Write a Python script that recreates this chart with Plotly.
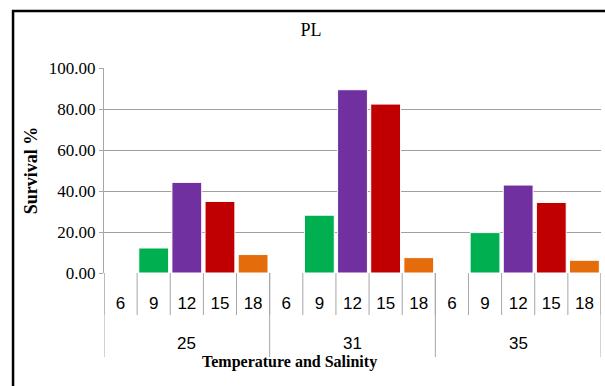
import plotly.graph_objects as go

# Survival of PL by rearing temperature and salinity
temperatures = ["25", "31", "35"]
salinities = ["6", "9", "12", "15", "18"]
survival = {
    "25": [0.0, 12.2, 44.2, 34.9, 9.0],
    "31": [0.0, 28.2, 89.4, 82.4, 7.5],
    "35": [0.0, 19.7, 42.9, 34.4, 6.2],
}
salinity_colors = {
    "6": "#00B050",
    "9": "#00B050",
    "12": "#7030A0",
    "15": "#C00000",
    "18": "#E46C0A",
}
y_ticks = [0, 20, 40, 60, 80, 100]

categories, sal_labels, y_vals, colors = [], [], [], []
for t in temperatures:
    for s, v in zip(salinities, survival[t]):
        categories.append(f"{t}-{s}")
        sal_labels.append(s)
        y_vals.append(v)
        colors.append(salinity_colors[s])

n = len(categories)
per_group = len(salinities)

fig = go.Figure(
    go.Bar(
        x=categories,
        y=y_vals,
        marker=dict(color=colors, line=dict(color="white", width=1)),
        showlegend=False,
    )
)

serif = "Liberation Serif"
sans = "Liberation Sans Narrow, Liberation Sans"
grey = "#A6A6A6"

# tick marks between salinity categories
for i in range(n + 1):
    fig.add_shape(
        type="line", xref="x", yref="paper",
        x0=i - 0.5, x1=i - 0.5, y0=0, y1=-0.205,
        line=dict(color=grey, width=1), layer="below",
    )
# dividers between temperature groups, with the temperature labels
for g in range(len(temperatures) + 1):
    xg = g * per_group - 0.5
    fig.add_shape(
        type="line", xref="x", yref="paper",
        x0=xg, x1=xg, y0=0, y1=-0.41,
        line=dict(color=grey, width=1), layer="below",
    )
for g, t in enumerate(temperatures):
    fig.add_annotation(
        text=t, xref="x", yref="paper",
        x=g * per_group + (per_group - 1) / 2, y=-(343 - 273) / 205,
        xanchor="center", yanchor="middle", showarrow=False,
        font=dict(family=sans, size=17, color="black"),
    )

# outer frame
fig.add_shape(
    type="rect", xref="paper", yref="paper",
    x0=-0.183, x1=1.03, y0=-0.6, y1=1.278,
    line=dict(color="black", width=2.5), fillcolor="rgba(0,0,0,0)",
)

fig.add_annotation(
    text="<b>Temperature and Salinity</b>",
    xref="paper", yref="paper", x=(289 - 104) / 497, y=-(362 - 273) / 205,
    xanchor="center", yanchor="middle", showarrow=False,
    font=dict(family=serif, size=16, color="black"),
)

fig.update_layout(
    width=605, height=386,
    margin=dict(l=104, r=4, t=68, b=113),
    paper_bgcolor="white", plot_bgcolor="white",
    bargap=0.1,
    title=dict(
        text="PL", x=311 / 605, xanchor="center", y=1 - 30 / 386, yanchor="middle",
        font=dict(family=serif, size=18, color="black"),
    ),
    xaxis=dict(
        type="category",
        range=[-0.5, n - 0.5],
        tickvals=categories,
        ticktext=sal_labels,
        ticks="",
        showline=False,
        showgrid=False,
        ticklabelstandoff=18,
        tickfont=dict(family=sans, size=17, color="black"),
    ),
    yaxis=dict(
        range=[0, 100],
        tickvals=y_ticks,
        ticktext=[f"{v:.2f}" for v in y_ticks],
        tickfont=dict(family=serif, size=17, color="black"),
        showgrid=True, gridcolor="#A0A0A0", gridwidth=1,
        showline=True, linecolor=grey, linewidth=1,
        ticks="outside", ticklen=4, tickcolor=grey,
        zeroline=False,
        title=dict(text="<b>Survival %</b>", font=dict(family=serif, size=18, color="black"), standoff=6),
    ),
)

fig.write_html("out.html")
